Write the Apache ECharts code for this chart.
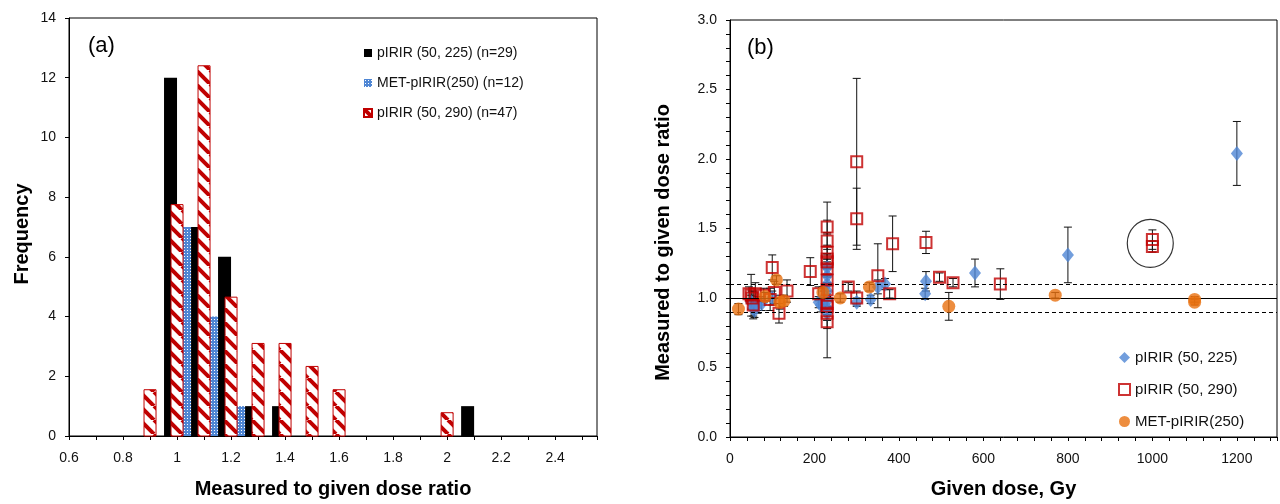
<!DOCTYPE html>
<html>
<head>
<meta charset="utf-8">
<script src="https://cdn.jsdelivr.net/npm/echarts@6/dist/echarts.min.js"></script>
<style>
html, body { margin: 0; padding: 0; background: #fff; }
#chart { width: 1280px; height: 504px; }
</style>
</head>
<body>
<div id="chart"></div>
<script>
// (a) histogram bins (upper bound) and frequencies
const bins225 = [1.0, 1.1, 1.2, 1.3, 1.4, 2.1];
const freq225 = [12, 7, 6, 1, 1, 1];
const binsMet = [1.0, 1.1, 1.2];
const freqMet = [7, 4, 1];
const bins290 = [0.9, 1.0, 1.1, 1.2, 1.3, 1.4, 1.5, 1.6, 2.0];
const freq290 = [1.55, 7.75, 12.4, 4.65, 3.1, 3.1, 2.33, 1.55, 0.78];

// (b) [given dose (Gy), measured/given ratio, error]
const pts225 = [
    [50, 0.97, 0.05], [55, 0.93, 0.06], [58, 0.91, 0.05], [65, 0.95, 0.06], [75, 0.96, 0.05],
    [100, 1.0, 0.05], [210, 0.97, 0.04], [215, 0.95, 0.05], [222, 1.0, 0.05],
    [230, 1.22, 0.06], [230, 1.16, 0.05], [230, 1.10, 0.05], [230, 1.05, 0.05],
    [230, 0.98, 0.05], [230, 0.93, 0.05], [230, 0.89, 0.05],
    [300, 0.97, 0.03], [333, 0.99, 0.03], [350, 1.08, 0.05], [367, 1.10, 0.04],
    [462, 1.03, 0.04], [464, 1.12, 0.07], [580, 1.18, 0.1], [800, 1.31, 0.2], [1200, 2.04, 0.23]
];
const pts290 = [
    [45, 1.03, 0.05], [50, 1.02, 0.15], [52, 1.0, 0.05], [55, 0.95, 0.1], [60, 1.03, 0.08],
    [80, 1.02, 0.05], [95, 0.99, 0.08], [100, 1.22, 0.09], [105, 1.04, 0.08], [116, 0.89, 0.07],
    [135, 1.05, 0.08], [190, 1.19, 0.1], [210, 1.03, 0.05],
    [230, 1.51, 0.05], [230, 1.41, 0.06], [230, 1.33, 0.05], [230, 1.28, 0.04], [230, 1.26, 0.05],
    [230, 1.21, 0.05], [230, 1.13, 0.56], [230, 1.06, 0.05], [230, 0.96, 0.05], [230, 0.94, 0.04],
    [230, 0.89, 0.05], [230, 0.83, 0.05],
    [280, 1.08, 0.03], [300, 1.98, 0.6], [300, 1.57, 0.22], [300, 1.0, 0.05], [350, 1.16, 0.23],
    [378, 1.03, 0.03], [385, 1.39, 0.2], [464, 1.40, 0.08], [496, 1.15, 0.03], [528, 1.11, 0.03],
    [640, 1.10, 0.11], [1000, 1.42, 0.07], [1000, 1.37, 0.04]
];
const ptsMet = [
    [20, 0.92, 0.04], [83, 1.01, 0.03], [110, 1.13, 0.03], [118, 0.97, 0.05], [128, 0.98, 0.04],
    [220, 1.04, 0.04], [261, 1.0, 0.03], [330, 1.08, 0.03], [518, 0.94, 0.1], [770, 1.02, 0.02],
    [1100, 0.99, 0.02], [1100, 0.97, 0.02]
];
const refLines = [1.0, 1.1, 0.9];
const circled = [[995, 1.393]];

const FONT = 'Liberation Sans';
const RED = '#c00000';
const BLUE = '#4f86d4';
const ORANGE = '#e8710f';

//hatch fills for the histogram
function stripes() {
    const c = document.createElement('canvas');
    c.width = 14; c.height = 14;
    const g = c.getContext('2d');
    g.fillStyle = '#fff';
    g.fillRect(0, 0, 14, 14);
    g.strokeStyle = RED;
    g.lineWidth = 4;
    [-14, 0, 14].forEach(function (x0) {
        g.beginPath();
        g.moveTo(x0, 0);
        g.lineTo(x0 + 14, 14);
        g.stroke();
    });
    return c;
}
function dots() {
    const c = document.createElement('canvas');
    c.width = 3; c.height = 3;
    const g = c.getContext('2d');
    g.fillStyle = BLUE;
    g.fillRect(0, 0, 3, 3);
    g.fillStyle = '#fff';
    g.fillRect(1, 1, 1, 1);
    return c;
}
const redFill = { image: stripes(), repeat: 'repeat' };
const blueFill = { image: dots(), repeat: 'repeat' };

function histSeries(name, bins, freq, offset, width, fill, stroke) {
    return {
        type: 'custom',
        name: name,
        xAxisIndex: 0,
        yAxisIndex: 0,
        data: bins.map(function (b, i) { return [b, freq[i]]; }),
        encode: { x: 0, y: 1 },
        itemStyle: { color: fill, borderColor: stroke || fill, borderWidth: stroke ? 1 : 0 },
        renderItem: function (params, api) {
            const top = api.coord([api.value(0), api.value(1)]);
            const base = api.coord([api.value(0), 0]);
            return {
                type: 'rect',
                shape: { x: top[0] + offset, y: top[1], width: width, height: base[1] - top[1] },
                style: { fill: fill, stroke: stroke || null, lineWidth: stroke ? 1 : 0 }
            };
        }
    };
}

function errSeries(pts) {
    return {
        type: 'custom',
        xAxisIndex: 1,
        yAxisIndex: 1,
        silent: true,
        z: 2,
        data: pts,
        encode: { x: 0, y: 1 },
        renderItem: function (params, api) {
            const x = api.value(0), y = api.value(1), e = api.value(2);
            const hi = api.coord([x, y + e]);
            const lo = api.coord([x, y - e]);
            const st = { stroke: '#111', lineWidth: 1 };
            return {
                type: 'group',
                children: [
                    { type: 'line', shape: { x1: hi[0], y1: hi[1], x2: lo[0], y2: lo[1] }, style: st },
                    { type: 'line', shape: { x1: hi[0] - 4, y1: hi[1], x2: hi[0] + 4, y2: hi[1] }, style: st },
                    { type: 'line', shape: { x1: lo[0] - 4, y1: lo[1], x2: lo[0] + 4, y2: lo[1] }, style: st }
                ]
            };
        }
    };
}

function tenths(v) {
    const t = Math.round(v * 10);
    return Math.abs(v * 10 - t) < 1e-6 ? t : null;
}

const axisText = { fontFamily: FONT, fontSize: 14, color: '#111' };
const nameText = { fontFamily: FONT, fontSize: 20, fontWeight: 'bold', color: '#000' };
const blackLine = { lineStyle: { color: '#000', width: 1 } };

const chart = echarts.init(document.getElementById('chart'));

chart.setOption({
    animation: false,
    backgroundColor: '#fff',
    grid: [
        { left: 69, top: 18, width: 528, height: 422, show: true, borderColor: '#000', borderWidth: 1 },
        { left: 730, top: 20, width: 547, height: 421, show: true, borderColor: '#000', borderWidth: 1 }
    ],
    xAxis: [
        {
            gridIndex: 0, type: 'value', min: 0.6, max: 2.555, interval: 0.1,
            axisLine: blackLine, axisTick: { length: 4, lineStyle: { color: '#000' } },
            splitLine: { show: false },
            axisLabel: Object.assign({ margin: 15, formatter: function (v) {
                const t = tenths(v);
                return (t === null || t % 2) ? '' : String(t / 10);
            } }, axisText),
            name: 'Measured to given dose ratio', nameLocation: 'middle', nameGap: 43, nameTextStyle: nameText
        },
        {
            gridIndex: 1, type: 'value', min: 0, max: 1295, interval: 40,
            axisLine: blackLine, axisTick: { length: 4, lineStyle: { color: '#000' } },
            splitLine: { show: false },
            axisLabel: Object.assign({ margin: 15, formatter: function (v) {
                return v % 200 === 0 ? String(v) : '';
            } }, axisText),
            name: 'Given dose, Gy', nameLocation: 'middle', nameGap: 42, nameTextStyle: nameText
        }
    ],
    yAxis: [
        {
            gridIndex: 0, type: 'value', min: 0, max: 14, interval: 2,
            axisLine: { show: true, lineStyle: { color: '#000' } },
            axisTick: { show: true, length: 4, lineStyle: { color: '#000' } },
            splitLine: { show: false },
            axisLabel: Object.assign({ margin: 13 }, axisText),
            name: 'Frequency', nameLocation: 'middle', nameGap: 37,
            nameTextStyle: Object.assign({ padding: [0, 14, 0, 0] }, nameText)
        },
        {
            gridIndex: 1, type: 'value', min: 0, max: 3, interval: 0.1,
            axisLine: { show: true, lineStyle: { color: '#000' } },
            axisTick: { show: true, length: 4, lineStyle: { color: '#000' } },
            splitLine: { show: false },
            axisLabel: Object.assign({ margin: 13, formatter: function (v) {
                const t = tenths(v);
                return (t === null || t % 5) ? '' : (t / 10).toFixed(1);
            } }, axisText),
            name: 'Measured to given dose ratio', nameLocation: 'middle', nameGap: 57,
            nameTextStyle: Object.assign({ padding: [0, 28, 0, 0] }, nameText)
        }
    ],
    legend: [
        {
            data: ['pIRIR (50, 225) (n=29)', 'MET-pIRIR(250) (n=12)', 'pIRIR (50, 290) (n=47)'],
            orient: 'vertical', left: 363, top: 46, padding: 0, itemWidth: 8, itemHeight: 8, itemGap: 16,
            icon: 'rect', selectedMode: false,
            textStyle: { fontFamily: FONT, fontSize: 14, color: '#111' }
        },
        {
            data: ['pIRIR (50, 225)', 'pIRIR (50, 290)', 'MET-pIRIR(250)'],
            orient: 'vertical', left: 1118, top: 350, padding: 0, itemWidth: 11, itemHeight: 11, itemGap: 17,
            selectedMode: false,
            textStyle: { fontFamily: FONT, fontSize: 15, color: '#111' }
        }
    ],
    graphic: [
        { type: 'text', left: 88, top: 35, style: { text: '(a)', fontFamily: FONT, fontSize: 22, fill: '#000' } },
        { type: 'text', left: 747, top: 37, style: { text: '(b)', fontFamily: FONT, fontSize: 22, fill: '#000' } }
    ],
    series: [
        histSeries('pIRIR (50, 225) (n=29)', bins225, freq225, -13, 13, '#000', null),
        histSeries('MET-pIRIR(250) (n=12)', binsMet, freqMet, 6, 8, blueFill, null),
        histSeries('pIRIR (50, 290) (n=47)', bins290, freq290, -6, 12, redFill, RED),

        errSeries(pts225),
        errSeries(pts290),
        errSeries(ptsMet),
        {
            type: 'scatter', name: 'pIRIR (50, 225)', xAxisIndex: 1, yAxisIndex: 1,
            data: pts225, symbol: 'diamond', symbolSize: [12, 15], z: 3,
            itemStyle: { color: BLUE },
            markLine: {
                silent: true, symbol: 'none', label: { show: false },
                lineStyle: { color: '#000', width: 1 },
                data: refLines.map(function (v) {
                    return { yAxis: v, lineStyle: { color: '#000', width: 1, type: v === 1 ? 'solid' : [4, 3] } };
                })
            }
        },
        {
            type: 'scatter', name: 'pIRIR (50, 290)', xAxisIndex: 1, yAxisIndex: 1,
            data: pts290, symbol: 'rect', symbolSize: 11, z: 4,
            itemStyle: { color: 'rgba(255,255,255,0)', borderColor: RED, borderWidth: 2 }
        },
        {
            type: 'scatter', name: 'MET-pIRIR(250)', xAxisIndex: 1, yAxisIndex: 1,
            data: ptsMet, symbol: 'circle', symbolSize: 13, z: 5,
            itemStyle: { color: ORANGE }
        },
        {
            type: 'scatter', xAxisIndex: 1, yAxisIndex: 1, silent: true,
            data: circled, symbol: 'circle', symbolSize: [46, 48], z: 6,
            itemStyle: { color: 'rgba(255,255,255,0)', borderColor: '#000', borderWidth: 1.2 }
        }
    ]
});
</script>
</body>
</html>
